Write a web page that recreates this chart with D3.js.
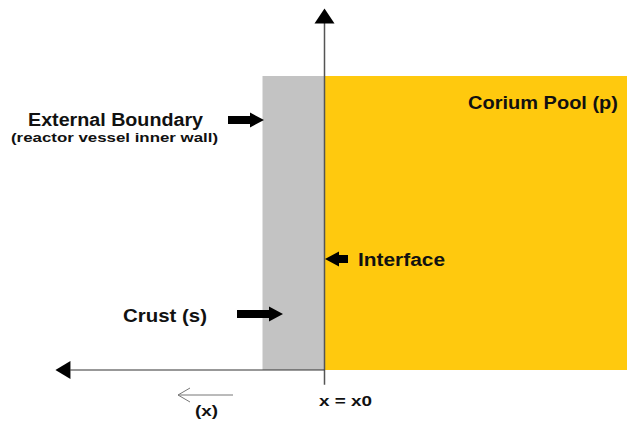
<!DOCTYPE html>
<html>
<head>
<meta charset="utf-8">
<script src="https://cdn.jsdelivr.net/npm/d3@7"></script>
<style>
  body { margin: 0; background: #fff; }
  text { font-family: "Liberation Sans", Arial, sans-serif; font-weight: bold; fill: #111; }
</style>
</head>
<body>
<svg width="627" height="421"></svg>
<script>
// Regions along x (x grows to the left, 0 = interface x0, 1 = crust thickness)
var regionNames = ['Crust (s)', 'Corium Pool (p)'];
var regionFrom = [1, 0];
var regionTo = [0, -4.9];
var regionColors = ['#c3c3c3', '#ffc90e'];

// Height of the layers (normalised)
var layerTop = 1;

// Label texts
var labelTexts = ['External Boundary', '(reactor vessel inner wall)', 'Interface', 'Crust (s)', 'Corium Pool (p)'];
var axisLabels = ['x = x0', '(x)'];

var svg = d3.select('svg');

var x = d3.scaleLinear().domain([0, 1]).range([324.5, 262.5]);
var y = d3.scaleLinear().domain([0, 1]).range([370, 76]);

// Layers
svg.selectAll('rect.region').data(regionNames)
  .enter().append('rect')
    .attr('class', 'region')
    .attr('x', (d, i) => Math.min(x(regionFrom[i]), x(regionTo[i])))
    .attr('width', (d, i) => Math.abs(x(regionFrom[i]) - x(regionTo[i])))
    .attr('y', y(layerTop))
    .attr('height', y(0) - y(layerTop))
    .attr('fill', (d, i) => regionColors[i]);

// Axes
svg.append('line')
    .attr('x1', x(0)).attr('x2', x(0))
    .attr('y1', y(-0.05)).attr('y2', y(1.18))
    .attr('stroke', '#555').attr('stroke-width', 1.5);
svg.append('path')
    .attr('d', 'M' + x(0) + ',' + y(1.23) + 'l-10,15l20,0z')
    .attr('fill', '#000');

svg.append('line')
    .attr('x1', x(0)).attr('x2', x(4.1))
    .attr('y1', y(0)).attr('y2', y(0))
    .attr('stroke', '#333').attr('stroke-width', 1.2);
svg.append('path')
    .attr('d', 'M' + x(4.34) + ',' + y(0) + 'l15,-9l0,18z')
    .attr('fill', '#000');

// Small direction arrow for x
svg.append('path')
    .attr('d', 'M233,395L178,395M190,388L178,395L190,402')
    .attr('stroke', '#777').attr('stroke-width', 1).attr('fill', 'none');

// Block arrows
function blockArrow(x0, x1, yc, dir) {
  // dir 1 = pointing right (tip at x1), -1 = pointing left (tip at x0)
  var head = 14, hh = 7.5, bh = 4;
  var p;
  if (dir > 0) {
    p = [[x0, yc - bh], [x1 - head, yc - bh], [x1 - head, yc - hh], [x1, yc],
         [x1 - head, yc + hh], [x1 - head, yc + bh], [x0, yc + bh]];
  } else {
    p = [[x1, yc - bh], [x0 + head, yc - bh], [x0 + head, yc - hh], [x0, yc],
         [x0 + head, yc + hh], [x0 + head, yc + bh], [x1, yc + bh]];
  }
  svg.append('path').attr('d', d3.line()(p) + 'Z').attr('fill', '#000');
}
blockArrow(228, 264, 120, 1);
blockArrow(237, 283, 314, 1);
blockArrow(325, 348, 259, -1);

// Labels
function label(t, lx, ly, size, len) {
  svg.append('text')
    .attr('x', lx).attr('y', ly)
    .attr('font-size', size)
    .attr('textLength', len).attr('lengthAdjust', 'spacingAndGlyphs')
    .text(t);
}
label(labelTexts[0], 28, 125.5, 17.5, 175);
label(labelTexts[1], 11, 141.5, 13, 207);
label(labelTexts[2], 358, 265.5, 17.5, 87);
label(labelTexts[3], 123, 322, 17.5, 84);
label(labelTexts[4], 468, 108.5, 17.5, 150);
label(axisLabels[0], 319, 405.5, 14.5, 53);
label(axisLabels[1], 195, 415.5, 14, 23);
</script>
</body>
</html>
